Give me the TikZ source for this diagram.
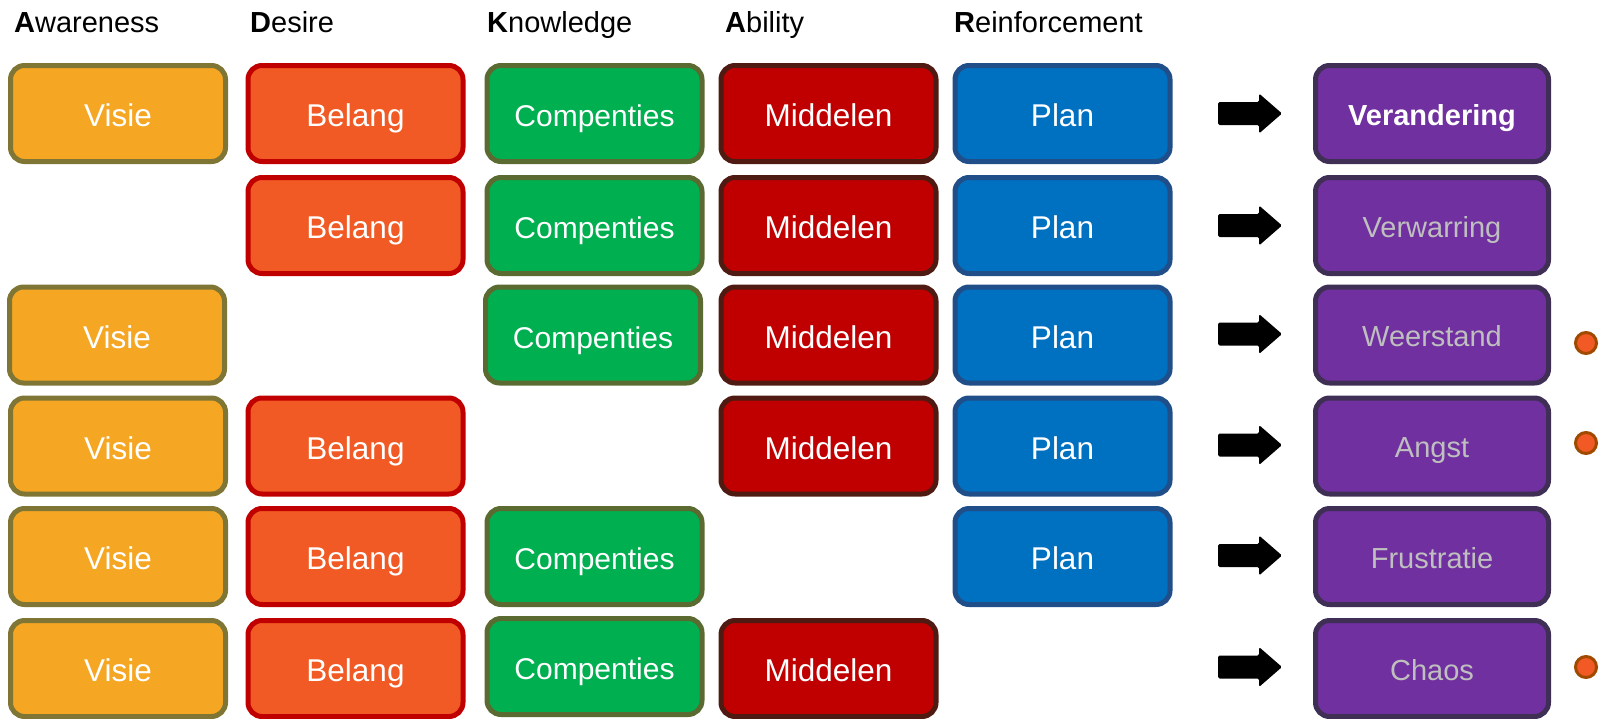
\documentclass[tikz,border=0pt]{standalone}
\usepackage{fontspec}
\setmainfont{Liberation Sans}
\definecolor{visieF}{HTML}{F5A623}
\definecolor{visieD}{HTML}{7F7535}
\definecolor{belangF}{HTML}{F15A24}
\definecolor{belangD}{HTML}{C00000}
\definecolor{compF}{HTML}{00B050}
\definecolor{compD}{HTML}{5A6A30}
\definecolor{midF}{HTML}{C00000}
\definecolor{midD}{HTML}{4F1A12}
\definecolor{planF}{HTML}{0070C0}
\definecolor{planD}{HTML}{1F4E89}
\definecolor{resF}{HTML}{7030A0}
\definecolor{resD}{HTML}{3F2F55}
\definecolor{resT}{HTML}{BFBFBF}
\definecolor{dotF}{HTML}{F15A24}
\definecolor{dotD}{HTML}{A04A00}
\tikzset{
  box/.style={rectangle, rounded corners=14pt, line width=5pt, minimum width=215pt,
    minimum height=96pt, inner sep=0pt, text=white,
    font=\fontsize{31.5}{36}\selectfont, text height=26pt, text depth=0pt},
  visie/.style={box, fill=visieF, draw=visieD},
  belang/.style={box, fill=belangF, draw=belangD},
  comp/.style={box, fill=compF, draw=compD, font=\fontsize{30}{36}\selectfont},
  mid/.style={box, fill=midF, draw=midD},
  plan/.style={box, fill=planF, draw=planD},
  res/.style={box, minimum width=233pt, fill=resF, draw=resD, text=resT,
    font=\fontsize{29}{34}\selectfont, text height=23.5pt},
  hdr/.style={anchor=base west, inner sep=0pt, font=\fontsize{29}{34}\selectfont},
  dotmark/.style={circle, fill=dotF, draw=dotD, line width=3pt, minimum size=21pt, inner sep=0pt},
}
\newcommand\blockarrow[1]{%
  \fill[rounded corners=1.5pt] (1218,#1-11.5) -- (1259,#1-11.5) -- (1259,#1-20)
    -- (1282,#1) -- (1259,#1+20) -- (1259,#1+11.5) -- (1218,#1+11.5) -- cycle;}
\begin{document}
\begin{tikzpicture}[x=1pt,y=-1pt]
\useasboundingbox (0,0) rectangle (1600,718);
% headers
\node[hdr] (hA) at (14,32) {\textbf{A}wareness};
\node[hdr] (hD) at (250,32) {\textbf{D}esire};
\node[hdr] (hK) at (487,32) {\textbf{K}nowledge};
\node[hdr] (hAb) at (725,32) {\textbf{A}bility};
\node[hdr] (hR) at (954,32) {\textbf{R}einforcement};
% row 1
\node[visie]  (v1) at (118,113.5) {Visie};
\node[belang] (b1) at (355.5,113.5) {Belang};
\node[comp]   (c1) at (594.5,113.5) {Compenties};
\node[mid]    (m1) at (828.5,113.5) {Middelen};
\node[plan]   (p1) at (1062.5,113.5) {Plan};
\blockarrow{113.5}
\node[res, text=white, font=\fontsize{29}{34}\selectfont\bfseries] (r1) at (1432,113.5) {Verandering};
% row 2
\node[belang] (b2) at (355.5,225.5) {Belang};
\node[comp]   (c2) at (594.5,225.5) {Compenties};
\node[mid]    (m2) at (828.5,225.5) {Middelen};
\node[plan]   (p2) at (1062.5,225.5) {Plan};
\blockarrow{225.5}
\node[res] (r2) at (1432,225.5) {Verwarring};
% row 3
\node[visie]  (v3) at (117,335) {Visie};
\node[comp]   (c3) at (593,335) {Compenties};
\node[mid]    (m3) at (828.5,335) {Middelen};
\node[plan]   (p3) at (1062.5,335) {Plan};
\blockarrow{334}
\node[res] (r3) at (1432,335) {Weerstand};
\node[dotmark] (d3) at (1586,343) {};
% row 4
\node[visie]  (v4) at (118,446) {Visie};
\node[belang] (b4) at (355.5,446) {Belang};
\node[mid]    (m4) at (828.5,446) {Middelen};
\node[plan]   (p4) at (1062.5,446) {Plan};
\blockarrow{445}
\node[res] (r4) at (1432,446) {Angst};
\node[dotmark] (d4) at (1586,443) {};
% row 5
\node[visie]  (v5) at (118,556.5) {Visie};
\node[belang] (b5) at (355.5,556.5) {Belang};
\node[comp]   (c5) at (594.5,556.5) {Compenties};
\node[plan]   (p5) at (1062.5,556.5) {Plan};
\blockarrow{555.5}
\node[res] (r5) at (1432,556.5) {Frustratie};
% row 6
\node[visie]  (v6) at (118,668.5) {Visie};
\node[belang] (b6) at (355.5,668.5) {Belang};
\node[comp]   (c6) at (594.5,666.5) {Compenties};
\node[mid]    (m6) at (828.5,668.5) {Middelen};
\blockarrow{667}
\node[res] (r6) at (1432,668.5) {Chaos};
\node[dotmark] (d6) at (1586,667) {};
\end{tikzpicture}
\end{document}
